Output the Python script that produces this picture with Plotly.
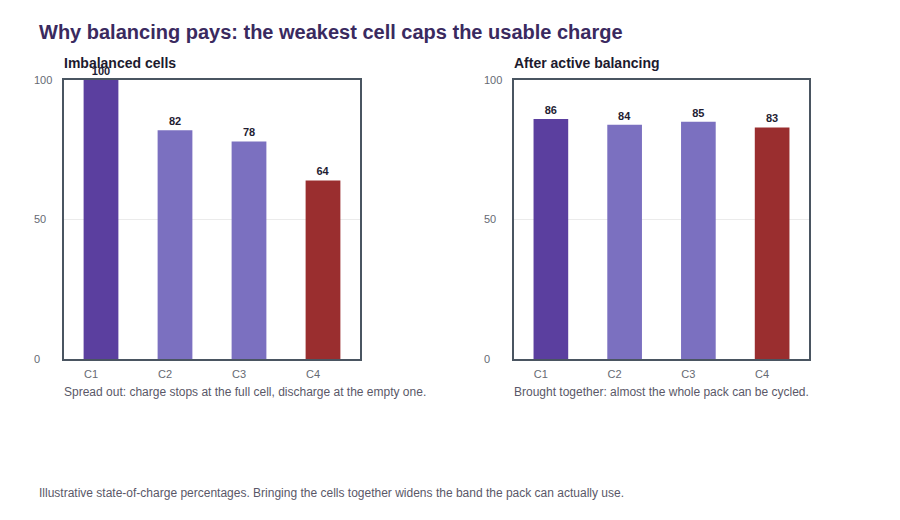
import plotly.graph_objects as go

cells = ["C1", "C2", "C3", "C4"]
imbalanced = [100, 82, 78, 64]
balanced = [86, 84, 85, 83]
bar_colors = ["#5b3f9f", "#7b70c0", "#7b70c0", "#9a2e2f"]
y_ticks = [0, 50, 100]

FONT = "Liberation Sans, Arial, sans-serif"
TICKFONT = dict(family=FONT, size=11, color="#666a73")

fig = go.Figure()
for vals, xa, ya in [(imbalanced, "x", "y"), (balanced, "x2", "y2")]:
    fig.add_trace(go.Bar(
        x=cells, y=vals, xaxis=xa, yaxis=ya,
        marker=dict(color=bar_colors, line=dict(width=0)),
        width=0.47,
        text=[str(v) for v in vals], texttemplate="<b>%{text}</b>", textposition="outside",
        textfont=dict(family=FONT, size=11, color="#1f1d33"),
        cliponaxis=False, showlegend=False, hoverinfo="x+y",
    ))
# empty helper traces so the left-aligned label axes get drawn
for xa, ya in [("x", "y3"), ("x2", "y4")]:
    fig.add_trace(go.Scatter(x=[None], y=[None], xaxis=xa, yaxis=ya, mode="markers",
                             showlegend=False, hoverinfo="skip"))

axis_common = dict(showline=True, mirror=True, linecolor="#4a5561", linewidth=1.5,
                   ticks="", automargin=False, tickfont=TICKFONT)
y_common = dict(axis_common, range=[0, 100], tickvals=y_ticks, showgrid=True,
                gridcolor="#ebebeb", gridwidth=1, zeroline=False, showticklabels=False)
x_common = dict(axis_common, showgrid=False, ticklabelstandoff=4, ticklabelshift=-10)
lab_common = dict(range=[0, 100], tickvals=y_ticks, showgrid=False, zeroline=False,
                  showline=False, ticks="", side="right", anchor="free",
                  automargin=False, tickfont=TICKFONT, ticklabelstandoff=0)
ydom = [1 - 359 / 520, 1 - 80 / 520]

fig.update_layout(
    width=900, height=520,
    margin=dict(l=0, r=0, t=0, b=0, pad=0, autoexpand=False),
    paper_bgcolor="white", plot_bgcolor="white",
    font=dict(family=FONT),
    showlegend=False,
    xaxis=dict(x_common, domain=[64 / 900, 360 / 900], anchor="y"),
    xaxis2=dict(x_common, domain=[514 / 900, 809 / 900], anchor="y2"),
    yaxis=dict(y_common, domain=ydom, anchor="x"),
    yaxis2=dict(y_common, domain=ydom, anchor="x2"),
    yaxis3=dict(lab_common, overlaying="y", position=33 / 900),
    yaxis4=dict(lab_common, overlaying="y2", position=483 / 900),
)

def ann(text, x, y, size, color, bold=False):
    fig.add_annotation(text=f"<b>{text}</b>" if bold else text,
                       x=(x - 2) / 900, y=1 - y / 520, xref="paper", yref="paper",
                       xanchor="left", yanchor="middle", showarrow=False,
                       font=dict(family=FONT, size=size, color=color))

ann("Why balancing pays: the weakest cell caps the usable charge", 39, 32, 20, "#3a2a5f", True)
ann("Imbalanced cells", 64, 63, 14, "#1c1a2e", True)
ann("After active balancing", 514, 63, 14, "#1c1a2e", True)
ann("Spread out: charge stops at the full cell, discharge at the empty one.", 64, 392, 12, "#5a5868")
ann("Brought together: almost the whole pack can be cycled.", 514, 392, 12, "#5a5868")
ann("Illustrative state-of-charge percentages. Bringing the cells together widens the band the pack can actually use.", 39, 493, 12, "#5a5868")

fig.write_html("out.html")
